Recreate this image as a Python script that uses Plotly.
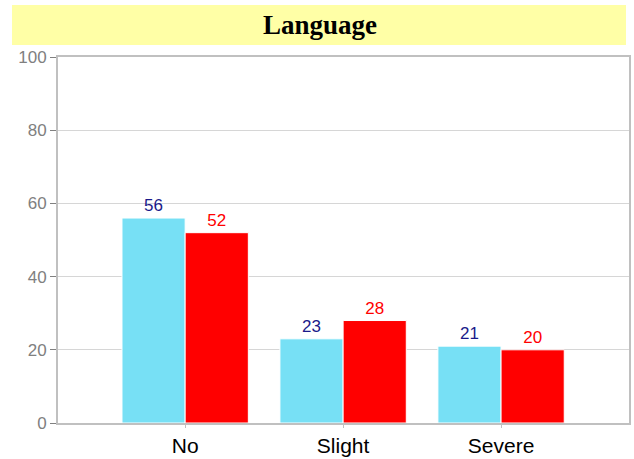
import plotly.graph_objects as go

categories = ["No", "Slight", "Severe"]
series_a = [56, 23, 21]
series_b = [52, 28, 20]
y_ticks = [0, 20, 40, 60, 80, 100]
title_text = "Language"

W, H = 634, 459
L, R, T, B = 58, 5, 57, 36
pw, ph = W - L - R, H - T - B

fig = go.Figure()
fig.add_trace(go.Bar(
    x=categories, y=series_a, marker=dict(color="#77E0F5", line=dict(color="white", width=1)),
    text=[str(v) for v in series_a], textposition="outside",
    textfont=dict(family="Arial", size=17, color="#1a1a8a"), cliponaxis=False, showlegend=False))
fig.add_trace(go.Bar(
    x=categories, y=series_b, marker=dict(color="#FF0000", line=dict(color="white", width=1)),
    text=[str(v) for v in series_b], textposition="outside",
    textfont=dict(family="Arial", size=17, color="#FF0000"), cliponaxis=False, showlegend=False))

def px_x(p):
    return (p - L) / pw

def px_y(p):
    return 1 - (p - T) / ph

fig.add_shape(type="rect", xref="paper", yref="paper",
              x0=px_x(12), x1=px_x(626), y0=px_y(45), y1=px_y(5),
              fillcolor="#FFFFA6", line=dict(width=0), layer="below")
fig.add_annotation(xref="paper", yref="paper", x=px_x(320), y=px_y(25),
                   text="<b>%s</b>" % title_text, showarrow=False,
                   font=dict(family="Liberation Serif", size=27, color="black"),
                   xanchor="center", yanchor="middle")

fig.update_layout(
    width=W, height=H, margin=dict(l=L, r=R, t=T, b=B, autoexpand=False),
    paper_bgcolor="white", plot_bgcolor="white",
    barmode="group", bargap=0.2, bargroupgap=0.0,
)
fig.update_xaxes(range=[-0.805, 2.81], showgrid=False, showline=True, linecolor="#c0c0c0",
                 linewidth=2, mirror=True, ticks="outside", ticklen=3, tickcolor="#c0c0c0",
                 tickfont=dict(family="Arial", size=21, color="black"), zeroline=False,
                 automargin=False)
fig.update_yaxes(range=[0, 100], tickvals=y_ticks, showgrid=True, gridcolor="#d6d6d6",
                 showline=True, linecolor="#c0c0c0", linewidth=2, mirror=True,
                 ticks="outside", ticklen=6, tickcolor="#808080",
                 tickfont=dict(family="Arial", size=17, color="#808080"), zeroline=False,
                 automargin=False)

fig.write_html("out.html", config={"displayModeBar": False},
               post_script="document.body.style.margin='0';document.body.style.overflow='hidden';")
